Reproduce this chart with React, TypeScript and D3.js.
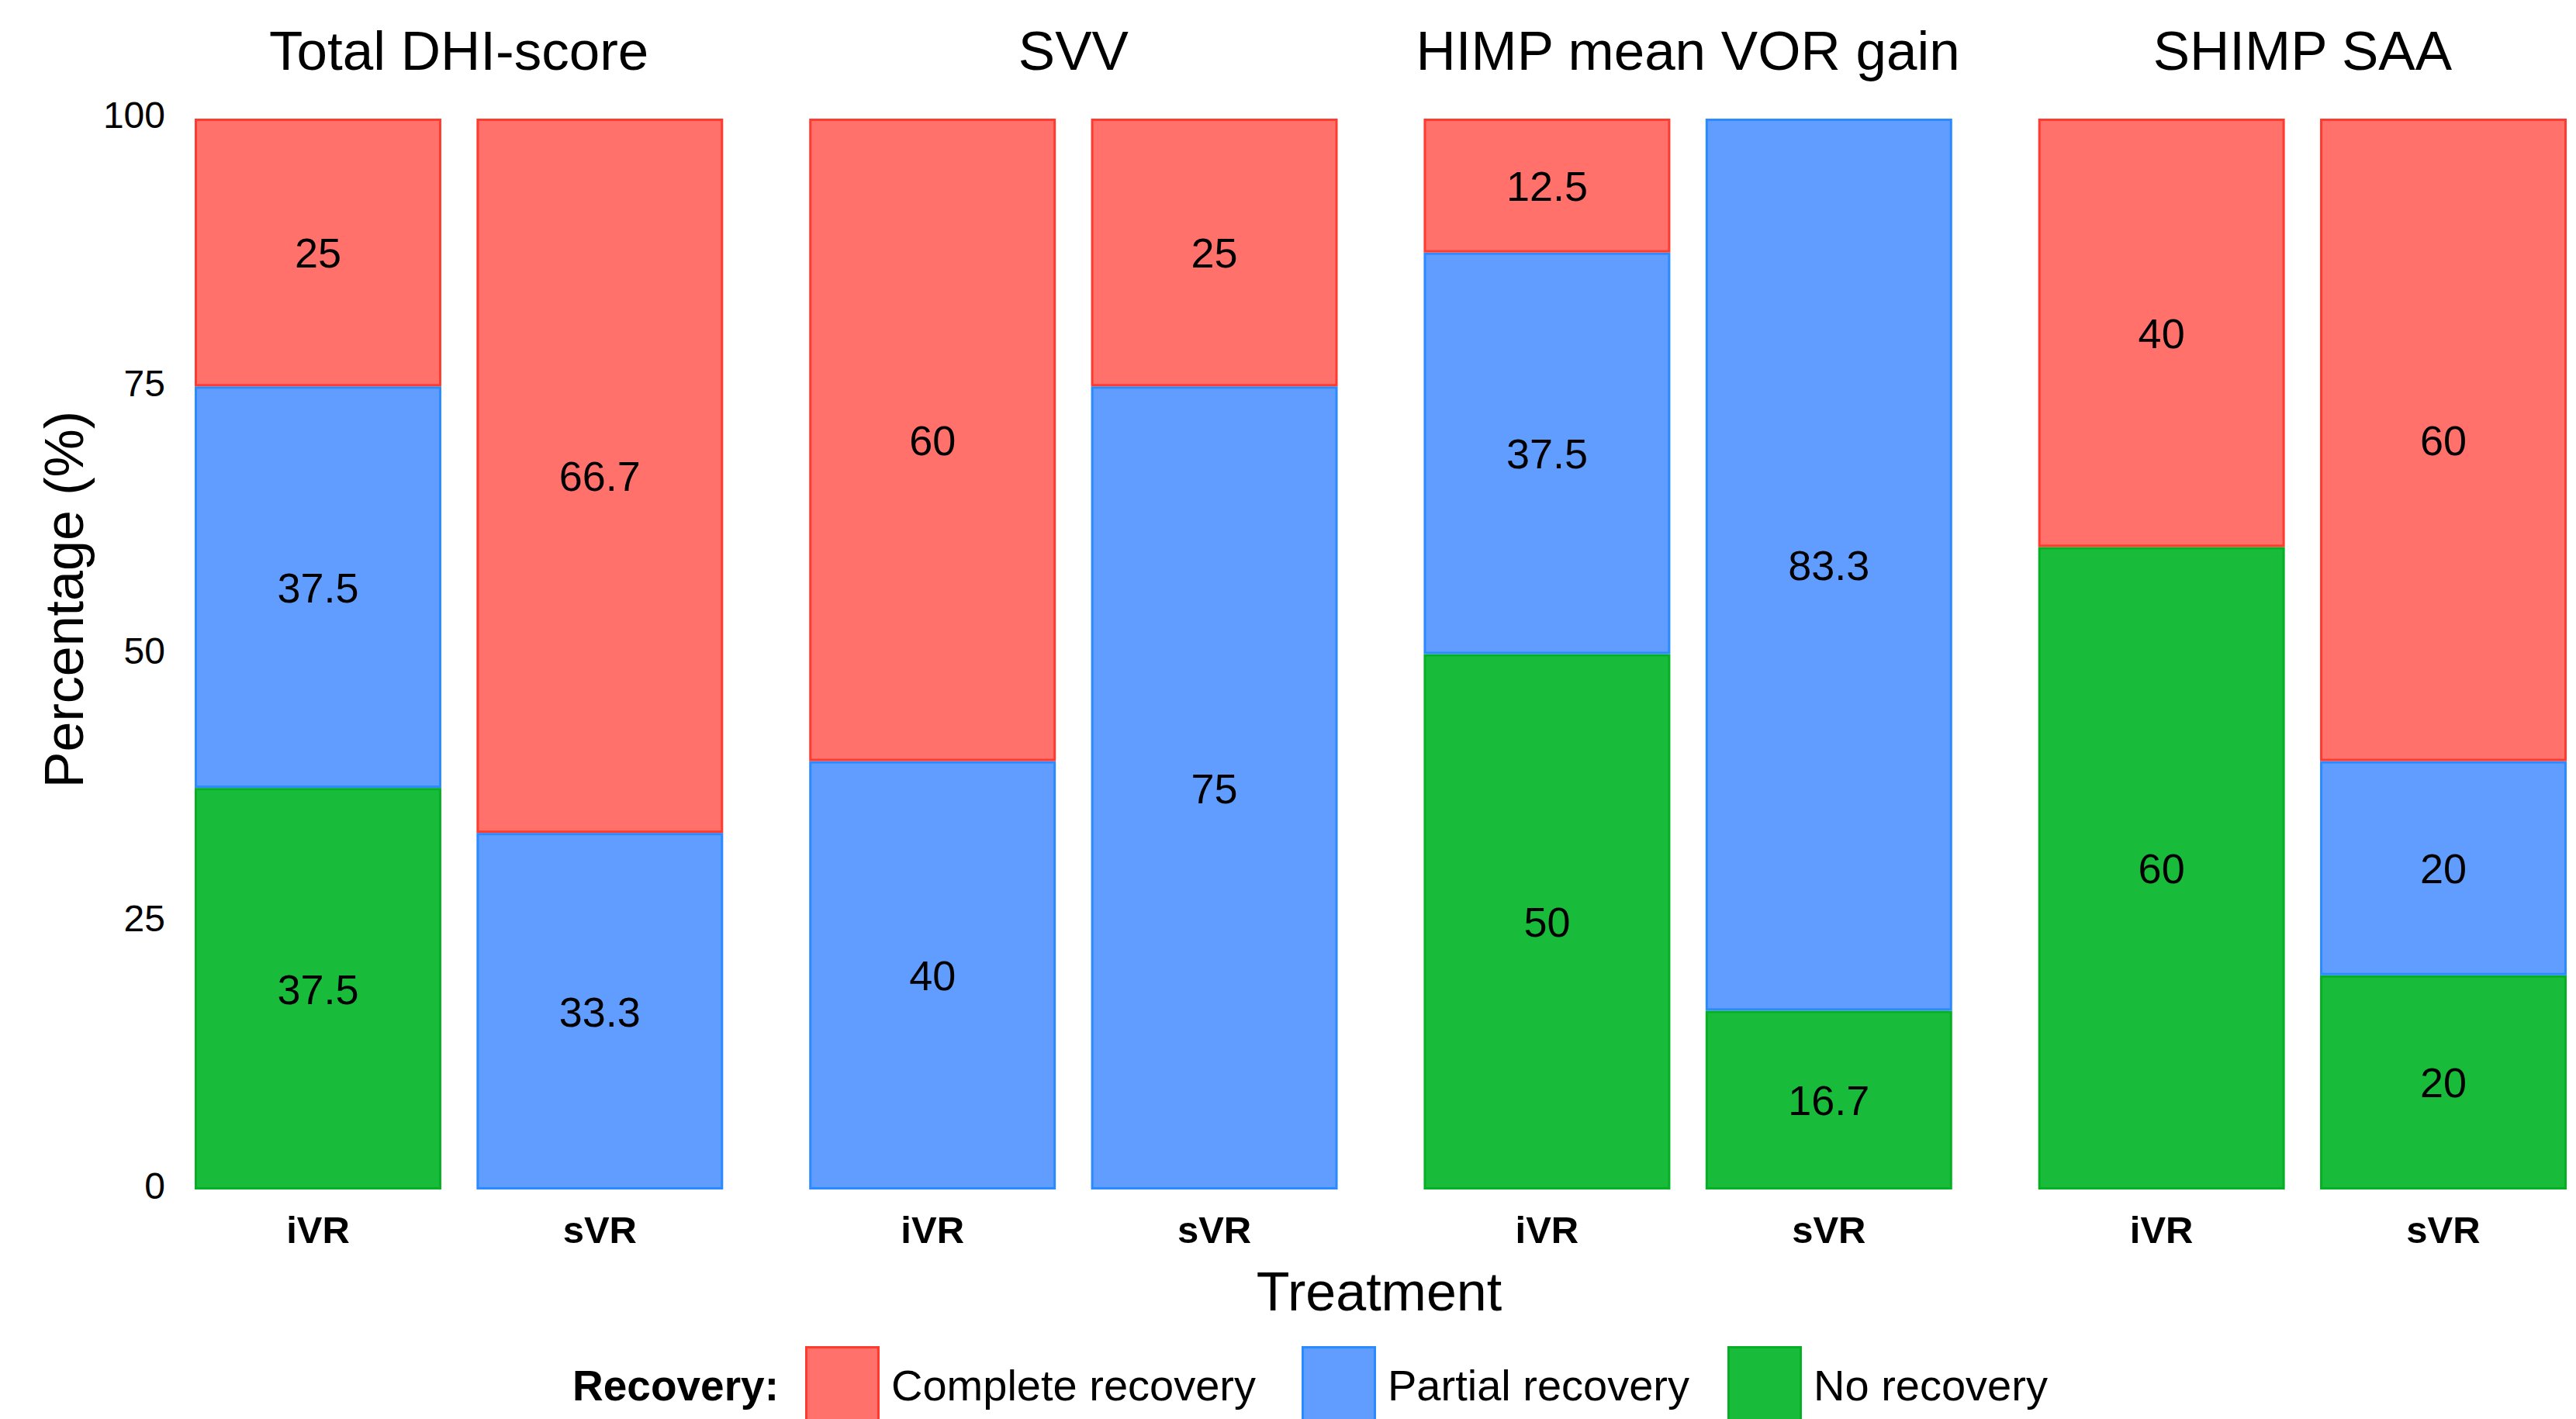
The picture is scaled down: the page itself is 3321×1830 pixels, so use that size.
import React from "react";
import * as d3 from "d3";

// ---- data ----
const measures = ["Total DHI-score", "SVV", "HIMP mean VOR gain", "SHIMP SAA"];
const treatments = ["iVR", "sVR"];
const recoveryLevels = ["Complete recovery", "Partial recovery", "No recovery"];
// values per measure x treatment, ordered [measure][treatment]
const completeRecovery = [[25, 66.7], [60, 25], [12.5, 0], [40, 60]];
const partialRecovery = [[37.5, 33.3], [40, 75], [37.5, 83.3], [0, 20]];
const noRecovery = [[37.5, 0], [0, 0], [50, 16.7], [60, 20]];
const yTicks = [0, 25, 50, 75, 100];

const fills: Record<string, string> = {
  "Complete recovery": "#FF716A",
  "Partial recovery": "#619DFF",
  "No recovery": "#19BB3B",
};
const strokes: Record<string, string> = {
  "Complete recovery": "#FF3A2E",
  "Partial recovery": "#2A8AFF",
  "No recovery": "#06B024",
};

const W = 3321;
const H = 1830;
const FONT = "'Liberation Sans', Arial, Helvetica, sans-serif";

export default function App() {
  const x0 = d3.scaleBand<string>().domain(measures).range([251, 3309]).paddingInner(0.14).paddingOuter(0);
  const x1 = d3.scaleBand<string>().domain(treatments).range([0, x0.bandwidth()]).paddingInner(0.125).paddingOuter(0);
  const y = d3.scaleLinear().domain([0, 100]).range([1534, 153]);

  // build stacked segments: bottom No recovery, then Partial, then Complete on top
  const rows: any[] = [];
  measures.forEach((m, mi) => {
    treatments.forEach((t, ti) => {
      rows.push({
        measure: m,
        treatment: t,
        "No recovery": noRecovery[mi][ti],
        "Partial recovery": partialRecovery[mi][ti],
        "Complete recovery": completeRecovery[mi][ti],
      });
    });
  });
  const stack = d3.stack<any>().keys(["No recovery", "Partial recovery", "Complete recovery"]);
  const series = stack(rows);

  const sw = 3;

  return (
    <svg
      width={W}
      height={H}
      style={{ position: "absolute", left: 0, top: 0, display: "block", background: "#fff" }}
      fontFamily={FONT}
    >
      <rect x={0} y={0} width={W} height={H} fill="#fff" />
      {/* panel titles */}
      {measures.map((m) => (
        <text key={m} x={(x0(m) as number) + x0.bandwidth() / 2} y={90} fontSize={71} textAnchor="middle" fill="#000">
          {m}
        </text>
      ))}
      {/* bars */}
      {series.map((s) => (
        <g key={s.key}>
          {s.map((d: any, i: number) => {
            const row = d.data;
            const v = d[1] - d[0];
            if (v <= 0) return null;
            const bx = (x0(row.measure) as number) + (x1(row.treatment) as number);
            const bw = x1.bandwidth();
            const yt = y(d[1]);
            const yb = y(d[0]);
            return (
              <rect
                key={i}
                x={bx + sw / 2}
                y={yt + sw / 2}
                width={bw - sw}
                height={yb - yt - sw}
                fill={fills[s.key]}
                stroke={strokes[s.key]}
                strokeWidth={sw}
              />
            );
          })}
        </g>
      ))}
      {/* value labels */}
      {series.map((s) => (
        <g key={"l" + s.key}>
          {s.map((d: any, i: number) => {
            const row = d.data;
            const v = row[s.key];
            if (!v) return null;
            const bx = (x0(row.measure) as number) + (x1(row.treatment) as number);
            return (
              <text
                key={i}
                x={bx + x1.bandwidth() / 2}
                y={y((d[0] + d[1]) / 2)}
                dy="0.36em"
                fontSize={54}
                textAnchor="middle"
                fill="#000"
              >
                {String(v)}
              </text>
            );
          })}
        </g>
      ))}
      {/* y tick labels */}
      {yTicks.map((t) => (
        <text key={t} x={213} y={y(t)} dy="0.26em" fontSize={48} textAnchor="end" fill="#000">
          {t}
        </text>
      ))}
      {/* x tick labels */}
      {measures.map((m) =>
        treatments.map((t) => (
          <text
            key={m + t}
            x={(x0(m) as number) + (x1(t) as number) + x1.bandwidth() / 2}
            y={1603}
            fontSize={49}
            fontWeight="bold"
            textAnchor="middle"
            fill="#000"
          >
            {t}
          </text>
        ))
      )}
      {/* axis titles */}
      <text transform="translate(107,773) rotate(-90)" fontSize={70} textAnchor="middle" fill="#000">
        Percentage (%)
      </text>
      <text x={1778} y={1690} fontSize={70} textAnchor="middle" fill="#000">
        Treatment
      </text>
      {/* legend */}
      <text x={738} y={1806} fontSize={55} fontWeight="bold" fill="#000">
        Recovery:
      </text>
      {recoveryLevels.map((lv, i) => {
        const sx = [1038, 1678, 2227][i];
        return (
          <g key={lv}>
            <rect x={sx + 1.5} y={1737.5} width={93} height={140} fill={fills[lv]} stroke={strokes[lv]} strokeWidth={3} />
            <text x={sx + 111} y={1806} fontSize={56} fill="#000">
              {lv}
            </text>
          </g>
        );
      })}
    </svg>
  );
}
